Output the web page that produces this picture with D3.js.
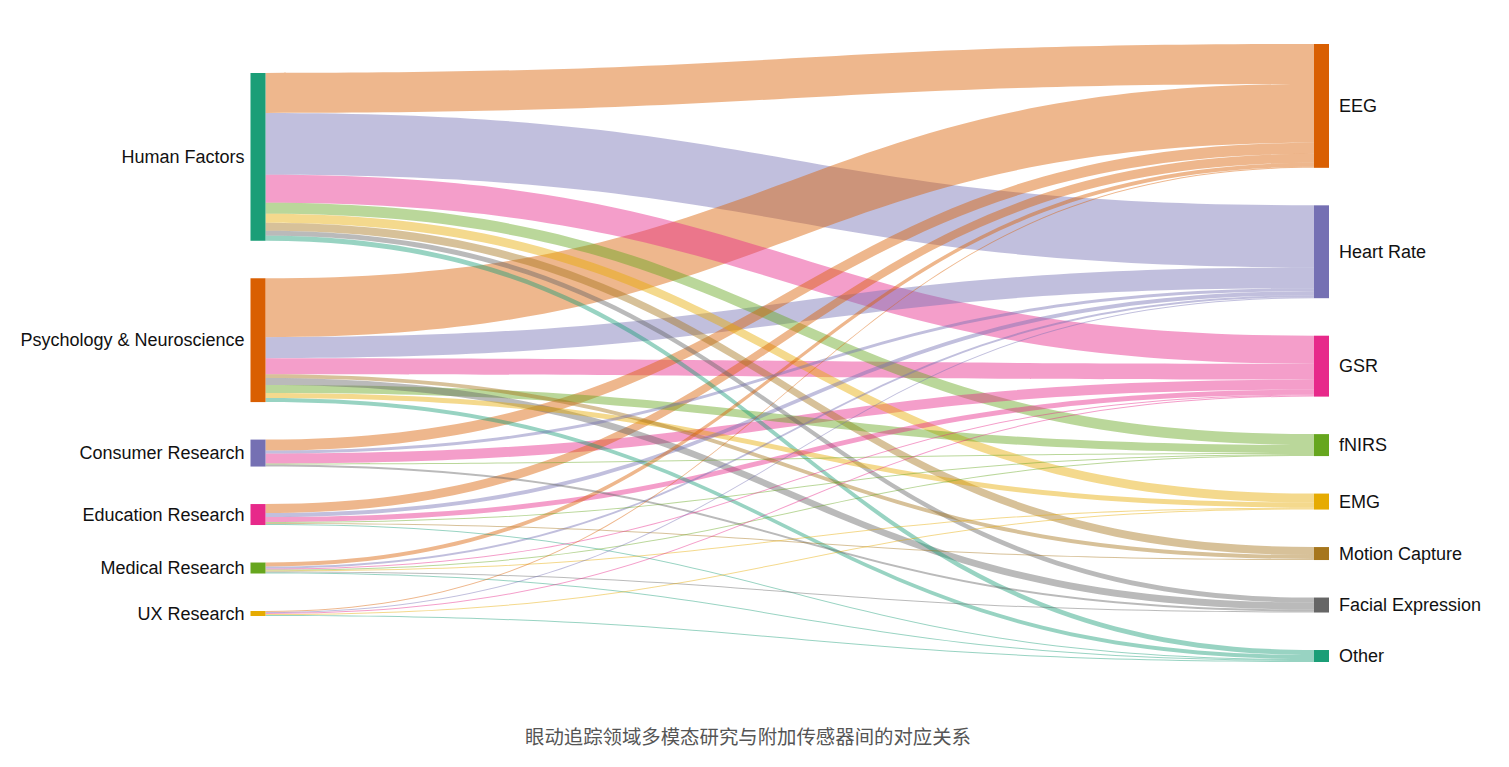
<!DOCTYPE html>
<html>
<head>
<meta charset="utf-8">
<script src="https://cdn.jsdelivr.net/npm/d3@7"></script>
<style>
	body { margin: 0; background: #fff; }
	svg { display: block; font-family: "Liberation Sans", Arial, sans-serif; }
</style>
</head>
<body>
<svg id="chart" width="1509" height="767"></svg>
<script>
// research fields (left column)
var fields = ['Human Factors', 'Psychology & Neuroscience', 'Consumer Research', 'Education Research', 'Medical Research', 'UX Research'];
var fieldColors = ['#1b9e77', '#d95f02', '#7570b3', '#e7298a', '#66a61e', '#e6ab02'];

// additional sensors (right column)
var sensors = ['EEG', 'Heart Rate', 'GSR', 'fNIRS', 'EMG', 'Motion Capture', 'Facial Expression', 'Other'];
var sensorColors = ['#d95f02', '#7570b3', '#e7298a', '#66a61e', '#e6ab02', '#a6761d', '#666666', '#1b9e77'];

// links, in the order they leave each field (index into fields / sensors)
var linkSource = [0, 0, 0, 0, 0, 0, 0, 0,
                  1, 1, 1, 1, 1, 1, 1, 1,
                  2, 2, 2, 2, 2,
                  3, 3, 3, 3, 3, 3,
                  4, 4, 4, 4, 4, 4, 4,
                  5, 5, 5, 5, 5];
var linkTarget = [0, 1, 2, 3, 4, 5, 6, 7,
                  0, 1, 2, 5, 6, 3, 4, 7,
                  0, 1, 2, 3, 6,
                  0, 1, 2, 3, 5, 7,
                  0, 1, 2, 3, 4, 6, 7,
                  0, 1, 2, 4, 7];
var linkValue  = [40, 62, 28, 11, 9, 8, 5, 5,
                  59, 21, 16, 4, 7, 8, 5, 4,
                  11, 3, 10, 1, 2,
                  9, 4, 5, 1, 1, 1,
                  4, 2, 1, 1, 1, 1, 1,
                  1, 1, 1, 1, 1];

var chartTitle = '眼动追踪领域多模态研究与附加传感器间的对应关系';

// layout settings
var nodeWidth = 15;
var nodePad = 37.5;
var extentY = [44, 662];
var colTop = [73, 44];
var colX = d3.scaleLinear().domain([0, 1]).range([250.5, 1314]);
var linkOpacity = 0.45;

var svg = d3.select('#chart');

// build nodes and links
var nodes = fields.map(function(name, i) {
	return { name: name, col: 0, index: i, color: fieldColors[i], out: [], inn: [] };
}).concat(sensors.map(function(name, i) {
	return { name: name, col: 1, index: i, color: sensorColors[i], out: [], inn: [] };
}));

var links = linkSource.map(function(s, i) {
	return {
		source: nodes[s],
		target: nodes[fields.length + linkTarget[i]],
		value: linkValue[i]
	};
});
links.forEach(function(l) {
	l.source.out.push(l);
	l.target.inn.push(l);
});
nodes.forEach(function(n) {
	n.value = Math.max(d3.sum(n.out, function(l) { return l.value; }), d3.sum(n.inn, function(l) { return l.value; }));
});

// simple two column sankey layout
var cols = d3.groups(nodes, function(n) { return n.col; }).map(function(d) { return d[1]; });
var ky = d3.min(cols, function(c) {
	return (extentY[1] - extentY[0] - (c.length - 1) * nodePad) / d3.sum(c, function(n) { return n.value; });
});
var y = d3.scaleLinear().domain([0, 1]).range([0, ky]);

cols.forEach(function(c, ci) {
	var top = colTop[ci];
	c.forEach(function(n) {
		n.x0 = colX(ci);
		n.x1 = n.x0 + nodeWidth;
		n.y0 = top;
		n.y1 = top + y(n.value);
		top = n.y1 + nodePad;
	});
});

nodes.forEach(function(n) {
	var pos = n.y0;
	n.out.forEach(function(l) {
		l.sy0 = pos;
		pos += y(l.value);
		l.sy1 = pos;
	});
	pos = n.y0;
	n.inn.sort(function(a, b) { return a.source.index - b.source.index; });
	n.inn.forEach(function(l) {
		l.ty0 = pos;
		pos += y(l.value);
		l.ty1 = pos;
	});
});

function ribbon(l) {
	var x0 = l.source.x1, x1 = l.target.x0, xm = (x0 + x1) / 2;
	return 'M' + x0 + ',' + l.sy0 +
		'C' + xm + ',' + l.sy0 + ' ' + xm + ',' + l.ty0 + ' ' + x1 + ',' + l.ty0 +
		'L' + x1 + ',' + l.ty1 +
		'C' + xm + ',' + l.ty1 + ' ' + xm + ',' + l.sy1 + ' ' + x0 + ',' + l.sy1 + 'Z';
}

// links (big ones first)
var drawOrder = links.slice().sort(function(a, b) { return b.value - a.value; });
svg.append('g')
	.attr('class', 'links')
	.selectAll('path').data(drawOrder).enter().append('path')
	.attr('d', ribbon)
	.attr('fill', function(l) { return l.target.color; })
	.attr('fill-opacity', linkOpacity);

// nodes
svg.append('g')
	.attr('class', 'nodes')
	.selectAll('rect').data(nodes).enter().append('rect')
	.attr('x', function(n) { return n.x0; })
	.attr('y', function(n) { return n.y0; })
	.attr('width', nodeWidth)
	.attr('height', function(n) { return n.y1 - n.y0; })
	.attr('fill', function(n) { return n.color; });

// labels
svg.append('g')
	.attr('class', 'labels')
	.selectAll('text').data(nodes).enter().append('text')
	.attr('x', function(n) { return n.col == 0 ? n.x0 - 6 : n.x1 + 10; })
	.attr('y', function(n) { return (n.y0 + n.y1) / 2; })
	.attr('dy', '0.35em')
	.attr('text-anchor', function(n) { return n.col == 0 ? 'end' : 'start'; })
	.style('font-size', '18px')
	.style('fill', '#111')
	.text(function(n) { return n.name; });

// title under the chart
svg.append('text')
	.attr('x', 748)
	.attr('y', 737)
	.attr('dy', '0.35em')
	.attr('text-anchor', 'middle')
	.style('font-family', '"Noto Sans CJK SC", sans-serif')
	.style('font-size', '19.4px')
	.style('fill', '#555')
	.text(chartTitle);
</script>
</body>
</html>
